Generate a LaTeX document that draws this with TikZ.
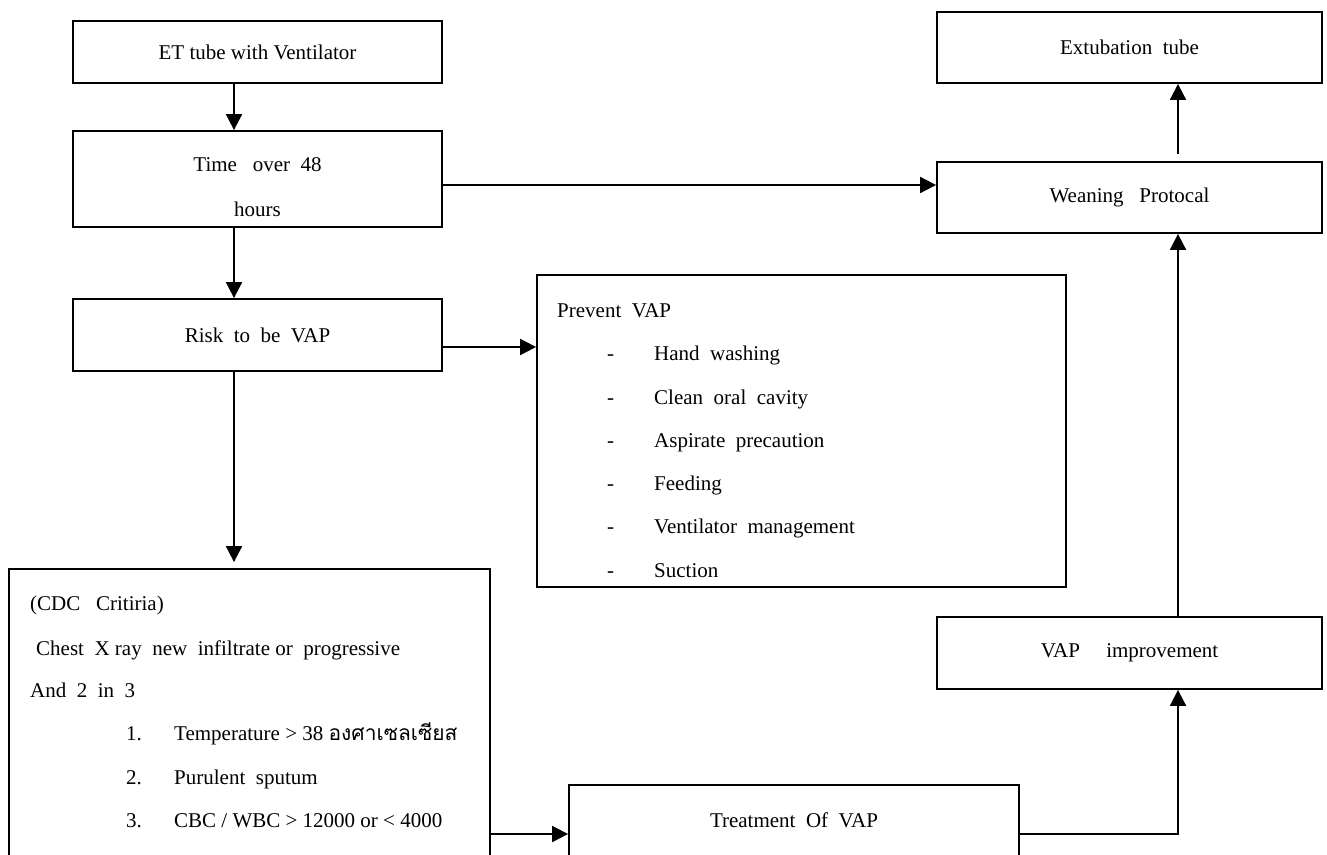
\documentclass[tikz,border=0pt]{standalone}
\usepackage{fontspec}
\setmainfont{Liberation Serif}
\newfontfamily\thaifont[Script=Thai]{Loma}
\usetikzlibrary{shapes,arrows.meta,calc,positioning}

\begin{document}
\begin{tikzpicture}[
  x=1pt, y=-1pt,
  font=\fontsize{21}{25}\selectfont,
  box/.style={rectangle, draw, line width=1.8pt, inner sep=0pt},
  txt/.style={anchor=base west, inner sep=0pt},
  arr/.style={line width=1.8pt, -{Triangle[length=16pt,width=16pt]}}
  ]
  \useasboundingbox (0,0) rectangle (1327,854);
  \clip (0,0) rectangle (1327,854);

  % left column
  \node[box, minimum width=369, minimum height=62] (et) at (257.5,52) {ET tube with Ventilator};
  \node[box, minimum width=369, minimum height=96] (time) at (257.5,179) {};
  \node[box, minimum width=369, minimum height=72] (risk) at (257.5,335) {Risk~ to~ be~ VAP};
  \node[box, minimum width=481, minimum height=331] (cdc) at (249.5,734.5) {};

  \node[inner sep=0pt] (timeA) at (257.5,165) {Time~~ over~ 48};
  \node[inner sep=0pt] (timeB) at (257.5,209) {hours};

  % middle
  \node[box, minimum width=529, minimum height=312] (prevent) at (801.5,431) {};
  \node[box, minimum width=450, minimum height=71] (treat) at (794,820.5) {Treatment~ Of~ VAP};

  % right column
  \node[box, minimum width=385, minimum height=71] (extub) at (1129.5,47.5) {Extubation~ tube};
  \node[box, minimum width=385, minimum height=71] (wean) at (1129.5,197.5) {Weaning~~ Protocal};
  \node[box, minimum width=385, minimum height=72] (vapimp) at (1129.5,653) {VAP~~~~ improvement};

  % prevent list
  \node[txt] (pv) at (557,317) {Prevent~ VAP};
  \node[txt] (d1) at (607,360) {-};
  \node[txt] (p1) at (654,360) {Hand~ washing};
  \node[txt] (d2) at (607,404) {-};
  \node[txt] (p2) at (654,404) {Clean~ oral~ cavity};
  \node[txt] (d3) at (607,447) {-};
  \node[txt] (p3) at (654,447) {Aspirate~ precaution};
  \node[txt] (d4) at (607,490) {-};
  \node[txt] (p4) at (654,490) {Feeding};
  \node[txt] (d5) at (607,533) {-};
  \node[txt] (p5) at (654,533) {Ventilator~ management};
  \node[txt] (d6) at (607,577) {-};
  \node[txt] (p6) at (654,577) {Suction};

  % criteria
  \node[txt] (c0) at (30,610) {(CDC~~ Critiria)};
  \node[txt] (c1) at (36,655) {Chest~ X ray~ new~ infiltrate or~ progressive};
  \node[txt] (c2) at (30,697) {And~ 2~ in~ 3};
  \node[txt] (n1) at (126,740) {1.};
  \node[txt] (t1) at (174,740) {Temperature > 38 {\thaifont องศาเซลเซียส}};
  \node[txt] (n2) at (126,784) {2.};
  \node[txt] (t2) at (174,784) {Purulent~ sputum};
  \node[txt] (n3) at (126,827) {3.};
  \node[txt] (t3) at (174,827) {CBC / WBC > 12000 or < 4000};

  \coordinate (lx) at (234,0);
  \coordinate (rx) at (1178,0);
  \coordinate (rp) at ([yshift=-12pt]risk.east);
  \coordinate (tw) at ([yshift=-6pt]time.east);
  \coordinate (ct) at (0,834);

  \draw[arr] (lx |- et.south) -- (lx |- time.north);
  \draw[arr] (lx |- time.south) -- (lx |- risk.north);
  \draw[arr, shorten >=6pt] (lx |- risk.south) -- (lx |- cdc.north);

  \draw[arr] (tw) -- (tw -| wean.west);
  \draw[arr] (rp) -- (rp -| prevent.west);

  \draw[arr] (ct -| cdc.east) -- (ct -| treat.west);
  \draw[arr] (ct -| treat.east) -- (ct -| rx) -- (rx |- vapimp.south);
  \draw[arr] (rx |- vapimp.north) -- (rx |- wean.south);
  \draw[arr, shorten <=7pt] (rx |- wean.north) -- (rx |- extub.south);

\end{tikzpicture}
\end{document}
